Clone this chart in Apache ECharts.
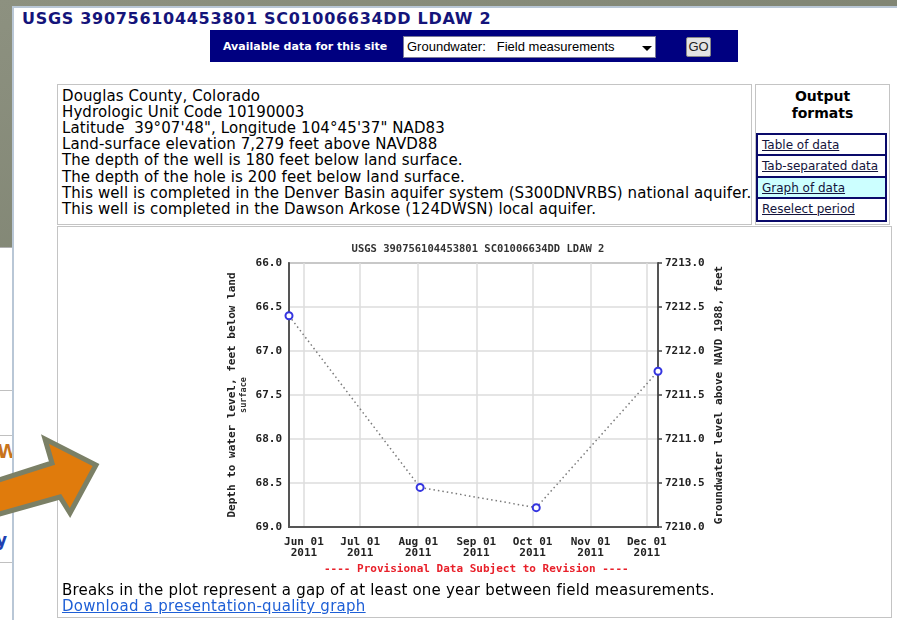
<!DOCTYPE html>
<html>
<head>
<meta charset="utf-8">
<script src="https://cdn.jsdelivr.net/npm/echarts@6/dist/echarts.min.js"></script>
<style>
  body { margin: 0; width: 897px; height: 620px; overflow: hidden; position: relative; background: #878b79; font-family: "DejaVu Sans", Verdana, sans-serif; }
  .abs { position: absolute; }
  #bgtex { left: 0; top: 0; width: 897px; height: 620px; background: linear-gradient(160deg, #8d9180 0%, #7f8472 40%, #8a8e7c 100%); }
  #strip { left: 0; top: 247px; width: 14px; height: 373px; background: #fff; border-top: 1px solid #b0b0b0; }
  #panel { left: 12px; top: 6px; width: 885px; height: 614px; background: #fff; border-left: 2px solid #b9c7d6; border-top: 2px solid #b9c7d6; box-sizing: border-box; }
  #head { left: 22px; top: 9px; font-size: 16px; line-height: 20px; font-weight: bold; color: #14147a; white-space: nowrap; letter-spacing: 0.7px; }
  #bar { left: 210px; top: 30px; width: 528px; height: 32px; background: #000080; }
  #avail { left: 223px; top: 37px; font-size: 11px; line-height: 20px; font-weight: bold; color: #fff; white-space: nowrap; }
  #sel { left: 403px; top: 36px; width: 253px; height: 22px; background: #fff; border: 1px solid #7a7a9a; box-sizing: border-box; font-family: "Liberation Sans", Arial, sans-serif; font-size: 13px; line-height: 20px; color: #000; white-space: nowrap; }
  #go { left: 686px; top: 37px; width: 25px; height: 20px; background: #e4e4e4; border: 1px solid #888; border-radius: 2px; box-sizing: border-box; font-family: "Liberation Sans", Arial, sans-serif; font-size: 13px; line-height: 18px; text-align: center; color: #222; }
  #info { left: 57px; top: 84px; width: 695px; height: 141px; border: 1px solid #c4c4c4; box-sizing: border-box; }
  #infotext { left: 62px; top: 87.5px; font-size: 15px; line-height: 16.2px; color: #000; white-space: nowrap; letter-spacing: 0.1px; }
  #outbox { left: 755px; top: 84px; width: 135px; height: 141px; border: 1px solid #c4c4c4; box-sizing: border-box; }
  #outtitle { left: 755px; top: 88px; width: 135px; text-align: center; font-size: 14px; line-height: 17px; font-weight: bold; color: #000; }
  #links { left: 756px; top: 133px; width: 131px; height: 89px; border: 2px solid #0a0a6a; box-sizing: border-box; }
  .lk { position: absolute; left: 0; width: 127px; height: 21.25px; border-bottom: 2px solid #0a0a6a; box-sizing: border-box; font-size: 12px; line-height: 20px; padding-left: 4px; color: #14143c; white-space: nowrap; }
  .lk span { text-decoration: underline; }
  #graph { left: 57px; top: 226px; width: 835px; height: 392px; border: 1px solid #c4c4c4; box-sizing: border-box; }
  #breaks { left: 62px; top: 581.5px; font-size: 15px; line-height: 16.5px; color: #000; white-space: nowrap; letter-spacing: 0.2px; }
  #dl { left: 62px; top: 598px; font-size: 15px; line-height: 16.5px; color: #1e5fd6; text-decoration: underline; white-space: nowrap; letter-spacing: 0.27px; }
  #chart { left: 58px; top: 227px; width: 834px; height: 355px; }
</style>
</head>
<body>
<div class="abs" id="bgtex"></div>
<div class="abs" id="strip"></div>
<div class="abs" style="left:0;top:390px;width:12px;height:1px;background:#c0c0c0"></div>
<div class="abs" style="left:0;top:435px;width:12px;height:1px;background:#c0c0c0"></div>
<div class="abs" style="left:0;top:562px;width:12px;height:1px;background:#c0c0c0"></div>
<div class="abs" style="left:-3px;top:440px;font-size:19px;font-weight:bold;color:#c8741c">W</div>
<div class="abs" style="left:-4px;top:530px;font-size:17px;font-weight:bold;color:#2040b0">y</div>
<div class="abs" id="panel"></div>
<div class="abs" id="head">USGS 390756104453801 SC01006634DD LDAW 2</div>
<div class="abs" id="bar"></div>
<div class="abs" id="avail">Available data for this site</div>
<div class="abs" id="sel"><span style="padding-left:3px">Groundwater:</span><span style="padding-left:11px">Field measurements</span>
  <svg style="position:absolute;left:238px;top:9px" width="10" height="6"><polygon points="0,0 10,0 5,5" fill="#000"/></svg>
</div>
<div class="abs" id="go">GO</div>

<div class="abs" id="info"></div>
<div class="abs" id="infotext">Douglas County, Colorado<br>Hydrologic Unit Code 10190003<br>Latitude &nbsp;39&#176;07'48", Longitude 104&#176;45'37" NAD83<br>Land-surface elevation 7,279 feet above NAVD88<br>The depth of the well is 180 feet below land surface.<br>The depth of the hole is 200 feet below land surface.<br>This well is completed in the Denver Basin aquifer system (S300DNVRBS) national aquifer.<br>This well is completed in the Dawson Arkose (124DWSN) local aquifer.</div>

<div class="abs" id="outbox"></div>
<div class="abs" id="outtitle">Output<br>formats</div>
<div class="abs" id="links">
  <div class="lk" style="top:0"><span>Table of data </span></div>
  <div class="lk" style="top:21.25px"><span>Tab-separated data</span></div>
  <div class="lk" style="top:42.5px;background:#ccffff"><span>Graph of data </span></div>
  <div class="lk" style="top:63.75px;border-bottom:none"><span>Reselect period </span></div>
</div>

<div class="abs" id="graph"></div>
<div class="abs" id="chart"></div>
<div class="abs" id="breaks">Breaks in the plot represent a gap of at least one year between field measurements.</div>
<div class="abs" id="dl">Download a presentation-quality graph</div>

<svg class="abs" style="left:0;top:0" width="120" height="620">
  <polygon points="-4,481 52,463 45,439 96,465 70,513 60,497 -4,515" fill="#e07b0c" stroke="#7b8066" stroke-width="5" stroke-linejoin="miter"/>
</svg>

<script>
// measurement dates and depth to water (feet below land surface)
const dates = ['2011-05-24', '2011-08-02', '2011-10-03', '2011-12-07'];
const depths = [66.60, 68.55, 68.78, 67.23];
const monthNames = ['Jan', 'Feb', 'Mar', 'Apr', 'May', 'Jun', 'Jul', 'Aug', 'Sep', 'Oct', 'Nov', 'Dec'];

const mono = '"DejaVu Sans Mono", "Liberation Mono", monospace';
const DAY = 86400000;

const chart = echarts.init(document.getElementById('chart'));
chart.setOption({
  animation: false,
  title: {
    text: 'USGS 390756104453801 SC01006634DD LDAW 2',
    left: 415,
    textAlign: 'center',
    top: 12,
    textStyle: { fontFamily: mono, fontSize: 10.5, fontWeight: 'bold', color: '#333' }
  },
  grid: {
    left: 231, top: 36, width: 369, height: 264,
    show: true, borderColor: '#666', borderWidth: 1.5, backgroundColor: '#fff'
  },
  xAxis: {
    type: 'time',
    min: dates[0],
    max: dates[dates.length - 1],
    minInterval: 28 * DAY,
    maxInterval: 31 * DAY,
    axisLine: { lineStyle: { color: '#555', width: 2 } },
    axisTick: { show: false },
    splitLine: { show: true, lineStyle: { color: '#dcdcdc', width: 1.5 } },
    axisLabel: {
      margin: 9,
      lineHeight: 11.5,
      fontFamily: mono, fontSize: 11, fontWeight: 'bold', color: '#222',
      formatter: function (val) {
        const d = new Date(val);
        const dd = String(d.getDate()).padStart(2, '0');
        return monthNames[d.getMonth()] + ' ' + dd + '\n' + d.getFullYear();
      }
    }
  },
  yAxis: [
    {
      type: 'value',
      inverse: true,
      min: 66, max: 69, interval: 0.5,
      name: '{a|Depth to water level, feet below land}\n{b|surface}',
      nameLocation: 'middle',
      nameRotate: 90,
      nameGap: 40,
      nameTextStyle: {
        rich: {
          a: { fontFamily: mono, fontSize: 11, fontWeight: 'bold', color: '#222', lineHeight: 13 },
          b: { fontFamily: mono, fontSize: 8.5, fontWeight: 'bold', color: '#333', lineHeight: 10 }
        }
      },
      axisLine: { show: true, lineStyle: { color: '#555', width: 2 } },
      axisTick: { show: false },
      splitLine: { show: true, lineStyle: { color: '#dcdcdc', width: 1.5 } },
      axisLabel: {
        margin: 7,
        fontFamily: mono, fontSize: 11, fontWeight: 'bold', color: '#222',
        formatter: v => v.toFixed(1)
      }
    },
    {
      type: 'value',
      position: 'right',
      min: 7210, max: 7213, interval: 0.5,
      name: 'Groundwater level above NAVD 1988, feet',
      nameLocation: 'middle',
      nameRotate: 90,
      nameGap: 56,
      nameTextStyle: { fontFamily: mono, fontSize: 11, fontWeight: 'bold', color: '#222' },
      axisLine: { show: true, lineStyle: { color: '#555', width: 2 } },
      axisTick: { show: true, length: 4, lineStyle: { color: '#444', width: 1.5 } },
      splitLine: { show: false },
      axisLabel: {
        margin: 7,
        fontFamily: mono, fontSize: 11, fontWeight: 'bold', color: '#222',
        formatter: v => v.toFixed(1)
      }
    }
  ],
  graphic: [
    {
      type: 'text',
      left: 414 - 148, top: 337,
      style: {
        text: '---- Provisional Data Subject to Revision ----',
        font: 'bold 11px ' + mono,
        fill: '#e8202a'
      }
    }
  ],
  series: [
    {
      type: 'line',
      yAxisIndex: 0,
      data: dates.map((d, i) => [d, depths[i]]),
      symbol: 'emptyCircle',
      symbolSize: 7,
      lineStyle: { color: '#7a7a7a', width: 1.5, type: [1.5, 3] },
      itemStyle: { color: '#3535e0', borderColor: '#3535e0', borderWidth: 1.5 }
    }
  ]
});
</script>
</body>
</html>
